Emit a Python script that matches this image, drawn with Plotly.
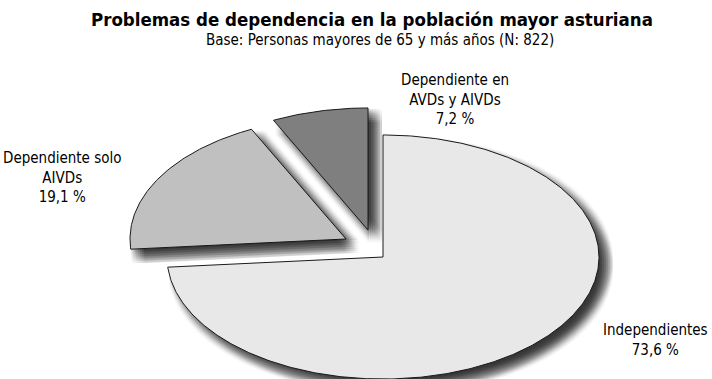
import numpy as np
import plotly.graph_objects as go

# --- data -------------------------------------------------------------
categories = ["Independientes", "Dependiente solo AIVDs", "Dependiente en AVDs y AIVDs"]
percentages = [73.6, 19.1, 7.2]
label_lines = [["Independientes"], ["Dependiente solo", "AIVDs"], ["Dependiente en", "AVDs y AIVDs"]]

# --- style ------------------------------------------------------------
fills = ["#e8e8e8", "#c0c0c0", "#7f7f7f"]
explode_px = [(0, 0), (-37, -18), (-15, -27)]   # slice displacement in pixels
TILT = 0.565                       # vertical squash of the tilted pie
W, H = 712, 379
CX_PX, CY_PX, R_PX = 383, 257, 216  # pie centre and horizontal radius in pixels
FONT = "DejaVu Sans Condensed"
# label anchor positions in pixels (centre of the text block)
label_pos = [(655, 340), (62, 178), (455, 99)]

x_range = [-CX_PX / R_PX, (W - CX_PX) / R_PX]
y_range = [-(H - CY_PX) / R_PX, CY_PX / R_PX]
px = 1.0 / R_PX  # one pixel in axis units


def slice_path(start, end, shift):
    """Polygon for a slice of a tilted pie; angles clockwise from 12 o'clock."""
    ox, oy = shift[0] * px, -shift[1] * px
    t = np.linspace(start, end, max(8, int((end - start) * 90)))
    xs = np.concatenate([[ox], ox + np.sin(t), [ox]])
    ys = np.concatenate([[oy], oy + TILT * np.cos(t), [oy]])
    return xs, ys


total = sum(percentages)
bounds = np.concatenate([[0], np.cumsum(percentages)]) / total * 2 * np.pi
paths = [slice_path(bounds[i], bounds[i + 1], explode_px[i]) for i in range(len(percentages))]

fig = go.Figure()

# soft drop shadows (stacked translucent copies offset down-right)
offs = np.linspace(0, 13, 7)
for xs, ys in paths:
    for sx in offs:
        for sy in offs:
            fig.add_trace(go.Scatter(
                x=xs + (sx + 1) * px, y=ys - (sy + 1) * px, mode="lines",
                fill="toself", fillcolor="rgba(0,0,0,0.026)",
                line=dict(width=0), hoverinfo="skip", showlegend=False))

# slices
for (xs, ys), col, name, pct in zip(paths, fills, categories, percentages):
    fig.add_trace(go.Scatter(
        x=xs, y=ys, mode="lines", fill="toself", fillcolor=col,
        line=dict(color="#1a1a1a", width=1), name=name,
        hovertemplate=f"{name}: " + f"{pct:.1f}".replace(".", ",") + " %<extra></extra>",
        showlegend=False))

annotations = [
    dict(text="<b>Problemas de dependencia en la población mayor asturiana</b>",
         x=372 / W, y=1 - 20 / H, xref="paper", yref="paper",
         xanchor="center", yanchor="middle", showarrow=False,
         font=dict(family=FONT, size=18.5, color="#000")),
    dict(text="Base: Personas mayores de 65 y más años (N: 822)",
         x=380 / W, y=1 - 40 / H, xref="paper", yref="paper",
         xanchor="center", yanchor="middle", showarrow=False,
         font=dict(family=FONT, size=15, color="#000")),
]
for lines, pct, (lx, ly) in zip(label_lines, percentages, label_pos):
    txt = "<br>".join(lines + [f"{pct:.1f}".replace(".", ",") + " %"])
    annotations.append(dict(
        text=txt, x=lx / W, y=1 - ly / H, xref="paper", yref="paper",
        xanchor="center", yanchor="middle", showarrow=False, align="center",
        font=dict(family=FONT, size=15, color="#000")))

fig.update_layout(
    width=W, height=H, margin=dict(l=0, r=0, t=0, b=0),
    paper_bgcolor="white", plot_bgcolor="white",
    xaxis=dict(range=x_range, visible=False, fixedrange=True),
    yaxis=dict(range=y_range, visible=False, fixedrange=True),
    annotations=annotations,
)

fig.write_html("out.html")
